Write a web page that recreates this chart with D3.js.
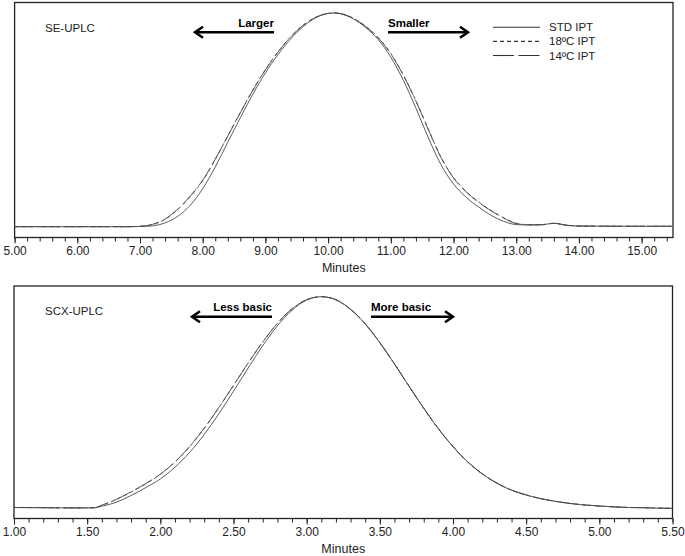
<!DOCTYPE html>
<html>
<head>
<meta charset="utf-8">
<script src="https://cdn.jsdelivr.net/npm/d3@7"></script>
<style>
  body { margin: 0; background: #fff; }
  svg { display: block; font-family: "Liberation Sans", Arial, Helvetica, sans-serif; }
</style>
</head>
<body>
<script>
// ---- data (signal scaled so the peak = 100) ----
const seriesNames = ["STD IPT", "18ºC IPT", "14ºC IPT"];

// SE-UPLC
const seTicks = [5, 6, 7, 8, 9, 10, 11, 12, 13, 14, 15];
const seTime = [5.0, 6.0, 6.8, 7.0, 7.2, 7.4, 7.6, 7.8, 8.0, 8.2, 8.4, 8.6, 8.8, 9.0, 9.2, 9.4, 9.6, 9.8, 10.0, 10.1,
    10.2, 10.4, 10.6, 10.8, 11.0, 11.2, 11.4, 11.6, 11.8, 12.0, 12.2, 12.4, 12.6, 12.8, 13.0, 13.2, 13.4, 13.6, 13.8, 14.0, 15.0, 15.5];
const seStd = [0.0, 0.0, 0.0, 0.1, 0.4, 1.8, 4.8, 10.0, 17.8, 28.0, 39.5, 51.0, 62.0, 72.0, 80.5, 87.8, 93.6, 97.7, 99.8, 100,
    99.6, 97.3, 93.2, 87.5, 79.3, 68.5, 55.5, 41.5, 29.0, 20.0, 13.8, 9.2, 5.3, 2.5, 1.0, 0.8, 0.9, 1.6, 0.7, 0.3, 0.2, 0.2];
const se18 = [0.0, 0.0, 0.0, 0.2, 1.0, 3.4, 8.0, 14.0, 21.5, 31.5, 42.5, 53.5, 64.0, 73.5, 81.8, 88.8, 94.3, 98.0, 99.8, 100,
    99.7, 97.6, 93.8, 88.5, 81.0, 71.0, 59.0, 45.5, 32.5, 23.0, 16.5, 11.6, 7.6, 4.2, 1.6, 0.9, 0.9, 1.6, 0.7, 0.3, 0.2, 0.2];
const se14 = [0.0, 0.0, 0.0, 0.2, 1.1, 3.6, 8.2, 14.3, 21.8, 31.6, 42.4, 53.3, 63.8, 73.4, 81.7, 88.7, 94.2, 97.9, 99.8, 100,
    99.7, 97.5, 93.6, 88.3, 80.8, 70.8, 58.8, 45.3, 32.4, 22.8, 16.3, 11.4, 7.4, 4.0, 1.5, 0.9, 0.9, 1.6, 0.7, 0.3, 0.2, 0.2];

// SCX-UPLC
const scxTicks = [1.0, 1.5, 2.0, 2.5, 3.0, 3.5, 4.0, 4.5, 5.0, 5.5];
const scxTime = [1.0, 1.2, 1.4, 1.5, 1.55, 1.6, 1.7, 1.8, 1.9, 2.0, 2.1, 2.2, 2.3, 2.4, 2.5, 2.6, 2.7, 2.8, 2.9, 3.0, 3.1,
    3.2, 3.3, 3.4, 3.5, 3.6, 3.7, 3.8, 3.9, 4.0, 4.1, 4.2, 4.3, 4.4, 4.5, 4.6, 4.7, 4.8, 4.9, 5.0, 5.1, 5.2, 5.3, 5.4, 5.5];
const scxStd = [0.1, 0.0, -0.1, -0.1, 0.0, 0.7, 2.6, 5.8, 9.5, 13.6, 19.2, 26.2, 34.7, 44.5, 55.2, 66.2, 76.8, 86.2, 93.6, 98.4, 100,
    98.5, 94.0, 87.1, 78.2, 68.1, 57.5, 47.1, 37.4, 28.9, 21.7, 16.0, 11.6, 8.3, 6.0, 4.3, 3.0, 2.0, 1.3, 0.8, 0.4, 0.1, 0.0, -0.2, -0.3];
const scx18 = [0.1, 0.0, -0.1, -0.1, 0.0, 1.1, 3.9, 7.4, 11.3, 15.8, 21.6, 28.9, 37.6, 47.4, 57.9, 68.5, 78.5, 87.3, 94.2, 98.6, 100,
    98.5, 94.0, 87.1, 78.2, 68.1, 57.5, 47.1, 37.4, 28.9, 21.7, 16.0, 11.6, 8.3, 6.0, 4.3, 3.0, 2.0, 1.3, 0.8, 0.4, 0.1, 0.0, -0.2, -0.3];
const scx14 = [0.1, 0.0, -0.1, -0.1, 0.0, 1.2, 4.0, 7.5, 11.4, 15.9, 21.7, 29.0, 37.7, 47.5, 58.0, 68.6, 78.6, 87.4, 94.3, 98.6, 100,
    98.6, 94.1, 87.2, 78.3, 68.2, 57.6, 47.2, 37.5, 29.0, 21.8, 16.1, 11.7, 8.4, 6.1, 4.3, 3.0, 2.0, 1.3, 0.8, 0.4, 0.1, 0.0, -0.2, -0.3];

// ---- drawing ----
const width = 685;
const height = 556;
const ink = "#222";
const dashes = ["none", "4,3", "20,5"];

const svg = d3.select("body").append("svg")
    .attr("width", width)
    .attr("height", height)
    .attr("viewBox", [0, 0, width, height]);

function arrow(g, x0, x1, y) {
    const dir = x1 > x0 ? 1 : -1;
    g.append("line")
        .attr("x1", x0).attr("x2", x1 - dir * 1).attr("y1", y).attr("y2", y)
        .attr("stroke", "#000").attr("stroke-width", 2.5);
    g.append("path")
        .attr("d", `M${x1 - dir * 8},${y - 5.5}L${x1},${y}L${x1 - dir * 8},${y + 5.5}`)
        .attr("fill", "none").attr("stroke", "#000").attr("stroke-width", 2.5);
}

function panel(p) {
    const x = d3.scaleLinear().domain(p.domain).range([p.left, p.right]);
    const y = d3.scaleLinear().domain([0, 100]).range([p.base, p.peak]);
    const g = svg.append("g");

    // minor ticks
    g.append("g")
        .attr("transform", `translate(0,${p.axisY})`)
        .call(d3.axisBottom(x).tickValues(p.minor).tickSize(4).tickFormat(""))
        .call(s => s.select(".domain").remove())
        .call(s => s.selectAll("line").attr("stroke", ink));

    // major ticks + labels
    g.append("g")
        .attr("transform", `translate(0,${p.axisY})`)
        .call(d3.axisBottom(x).tickValues(p.ticks).tickSize(6).tickFormat(d3.format(".2f")))
        .call(s => s.select(".domain").remove())
        .call(s => s.selectAll("line").attr("stroke", ink))
        .call(s => s.selectAll("text")
            .attr("fill", ink)
            .attr("font-size", 12)
            .attr("font-family", "Liberation Sans, Arial, sans-serif"));

    // frame
    g.append("rect")
        .attr("x", p.left).attr("y", p.top)
        .attr("width", p.right - p.left).attr("height", p.axisY - p.top)
        .attr("fill", "none").attr("stroke", ink).attr("stroke-width", 1.3);

    // traces
    const line = d3.line()
        .x((d, i) => x(p.time[i]))
        .y(d => y(d))
        .curve(d3.curveMonotoneX);

    [2, 1, 0].forEach(i => {
        g.append("path")
            .attr("d", line(p.series[i]))
            .attr("fill", "none")
            .attr("stroke", "#4a4a4a")
            .attr("stroke-width", 0.9)
            .attr("stroke-dasharray", dashes[i]);
    });

    g.append("text")
        .attr("x", 45).attr("y", p.top + 29)
        .attr("font-size", 11.5).attr("fill", ink)
        .text(p.title);

    g.append("text")
        .attr("x", (p.left + p.right) / 2).attr("y", p.axisY + 34.5)
        .attr("text-anchor", "middle")
        .attr("font-size", 12.5).attr("fill", ink)
        .text("Minutes");

    // direction arrows
    g.append("text")
        .attr("x", p.arrowL[0]).attr("y", p.arrowY - 5.5)
        .attr("text-anchor", "end")
        .attr("font-size", 11.5).attr("font-weight", "bold")
        .text(p.arrowText[0]);
    arrow(g, p.arrowL[0], p.arrowL[1], p.arrowY);

    g.append("text")
        .attr("x", p.arrowR[0]).attr("y", p.arrowY - 5.5)
        .attr("font-size", 11.5).attr("font-weight", "bold")
        .text(p.arrowText[1]);
    arrow(g, p.arrowR[0], p.arrowR[1], p.arrowY);

    return g;
}

const sePanel = panel({
    title: "SE-UPLC",
    domain: [5, 15.5], left: 14.6, right: 673,
    top: 2.5, axisY: 237.5, base: 226.7, peak: 13,
    ticks: seTicks, minor: d3.range(5, 15.5001, 0.2),
    time: seTime, series: [seStd, se18, se14],
    arrowText: ["Larger", "Smaller"], arrowL: [274, 195], arrowR: [388, 468], arrowY: 32.3
});

panel({
    title: "SCX-UPLC",
    domain: [1, 5.5], left: 14, right: 672.5,
    top: 286, axisY: 518.5, base: 507.7, peak: 296.7,
    ticks: scxTicks, minor: d3.range(1, 5.5001, 0.1),
    time: scxTime, series: [scxStd, scx18, scx14],
    arrowText: ["Less basic", "More basic"], arrowL: [272, 192], arrowR: [371, 453], arrowY: 316.7
});

// legend (top panel only)
const legend = sePanel.append("g")
    .selectAll("g")
    .data(seriesNames)
    .join("g")
        .attr("transform", (d, i) => `translate(493,${27.3 + i * 14.1})`);

legend.append("line")
    .attr("x1", 0).attr("x2", 47)
    .attr("stroke", "#333").attr("stroke-width", 1.1)
    .attr("stroke-dasharray", (d, i) => i === 2 ? "21,4.5" : dashes[i]);

legend.append("text")
    .attr("x", 56).attr("y", 4)
    .attr("font-size", 11.5).attr("fill", ink)
    .text(d => d);
</script>
</body>
</html>
